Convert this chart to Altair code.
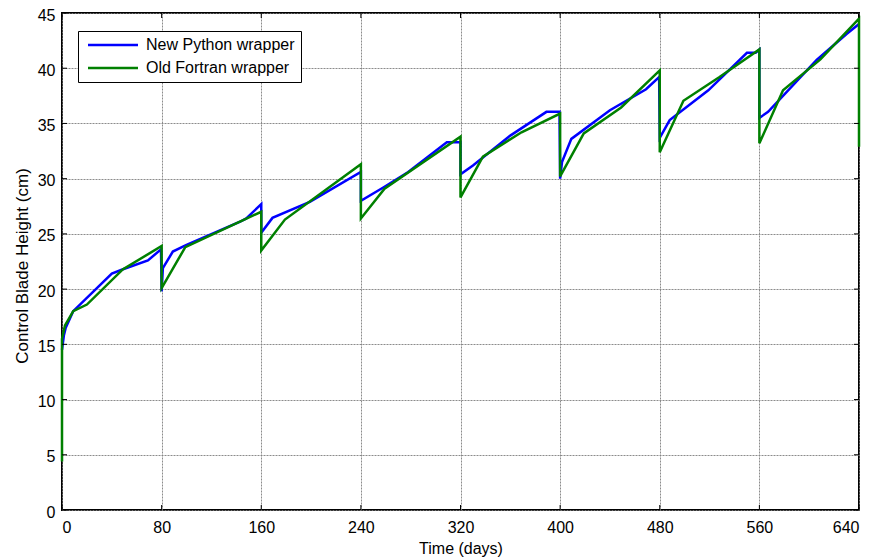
import altair as alt
import pandas as pd

series_names = ["New Python wrapper", "Old Fortran wrapper"]
series_colors = ["#0000ff", "#008000"]

python_t = [0, 1.5, 3, 9, 40, 49, 69, 79.5, 80, 81, 89, 100, 143, 148, 160, 160, 169, 199,
            240, 240, 258, 278, 309, 318, 320, 320, 330, 340, 360, 389, 399.5, 400, 401.5,
            409, 440, 469, 479.5, 480, 488, 519, 550, 557, 560, 560, 567, 606, 630, 640]
python_y = [14.5, 15.8, 16.5, 18.0, 21.4, 21.8, 22.6, 23.6, 19.8, 21.9, 23.4, 24.0, 26.1, 26.4,
            27.7, 25.1, 26.45, 27.9, 30.6, 28.0, 29.2, 30.6, 33.3, 33.3, 33.3, 30.4, 31.2, 32.1,
            33.9, 36.05, 36.05, 30.0, 31.5, 33.6, 36.2, 38.1, 39.2, 33.7, 35.3, 38.0, 41.4, 41.4,
            41.7, 35.5, 36.05, 40.75, 43.1, 44.0]

fortran_t = [0, 0, 2.4, 9, 20, 49, 80, 80, 99, 160, 160, 179, 240, 240, 259, 320, 320, 338,
             369, 400, 400, 419, 449, 480, 480, 499, 528, 560, 560, 579, 609, 640, 640]
fortran_y = [4.4, 15.5, 16.7, 18.0, 18.6, 21.8, 23.9, 20.1, 23.8, 27.0, 23.5, 26.3, 31.3, 26.4,
             29.1, 33.8, 28.3, 32.0, 34.2, 35.9, 30.2, 34.1, 36.45, 39.8, 32.4, 37.05, 39.2,
             41.7, 33.2, 38.0, 40.8, 44.5, 32.9]

x_ticks = [0, 80, 160, 240, 320, 400, 480, 560, 640]
y_ticks = [0, 5, 10, 15, 20, 25, 30, 35, 40, 45]

W, H = 797, 497
FONT = "Liberation Sans"

df_py = pd.DataFrame({"series": series_names[0], "t": python_t, "h": python_y,
                      "i": list(range(len(python_t)))})
df_fo = pd.DataFrame({"series": series_names[1], "t": fortran_t, "h": fortran_y,
                      "i": list(range(len(fortran_t)))})

x_enc = alt.X("t:Q", scale=alt.Scale(domain=[0, 640], nice=False, zero=False),
              axis=alt.Axis(values=x_ticks, title="Time (days)", format="d",
                            labelPadding=9, titleY=43, titleBaseline="alphabetic"))
y_enc = alt.Y("h:Q", scale=alt.Scale(domain=[0, 45], nice=False, zero=False),
              axis=alt.Axis(values=y_ticks, title="Control Blade Height (cm)", format="d",
                            labelPadding=7, labelOffset=2, titleX=-35, titleY=H / 2 + 4,
                            titleFontSize=17,
                            titleAngle=270, titleAlign="center", titleBaseline="alphabetic"))

color_enc = alt.Color("series:N", scale=alt.Scale(domain=series_names, range=series_colors),
                      legend=alt.Legend(title=None, orient="none", legendX=16, legendY=18,
                                        symbolType="M-5,0H5", symbolSize=100,
                                        symbolStrokeWidth=2.5, symbolOffset=21,
                                        labelFontSize=16, labelFont=FONT, labelOffset=25,
                                        labelColor="black", strokeColor="black",
                                        fillColor="white", padding=6, rowPadding=7))

line_py = alt.Chart(df_py).mark_line(strokeWidth=2.5).encode(
    x=x_enc, y=y_enc, color=color_enc, order="i:Q")
line_fo = alt.Chart(df_fo).mark_line(strokeWidth=2.5).encode(
    x=x_enc, y=y_enc, color=color_enc, order="i:Q")

xt = pd.DataFrame({"t": x_ticks})
yt = pd.DataFrame({"h": y_ticks})
tick_top = alt.Chart(xt).mark_rule(color="black", strokeWidth=1).encode(
    x="t:Q", y=alt.value(0), y2=alt.value(5))
tick_bot = alt.Chart(xt).mark_rule(color="black", strokeWidth=1).encode(
    x="t:Q", y=alt.value(H), y2=alt.value(H - 5))
tick_left = alt.Chart(yt).mark_rule(color="black", strokeWidth=1).encode(
    y="h:Q", x=alt.value(0), x2=alt.value(5))
tick_right = alt.Chart(yt).mark_rule(color="black", strokeWidth=1).encode(
    y="h:Q", x=alt.value(W), x2=alt.value(W - 5))

chart = alt.layer(line_py, line_fo, tick_top, tick_bot, tick_left, tick_right).properties(
    width=W, height=H, autosize="none",
    padding={"left": 54, "top": 5, "right": 9, "bottom": 48},
).configure_view(
    stroke="black", strokeWidth=2
).configure_axis(
    labelFont=FONT, titleFont=FONT, labelFontSize=16, titleFontSize=16,
    labelColor="black", titleColor="black", titleFontWeight="normal",
    ticks=False, tickSize=0, domain=False,
    grid=True, gridColor="#808080", gridWidth=1, gridDash=[2, 1], gridOpacity=0.9,
)

chart.save("out.html", embed_options={"renderer": "svg", "actions": False})
